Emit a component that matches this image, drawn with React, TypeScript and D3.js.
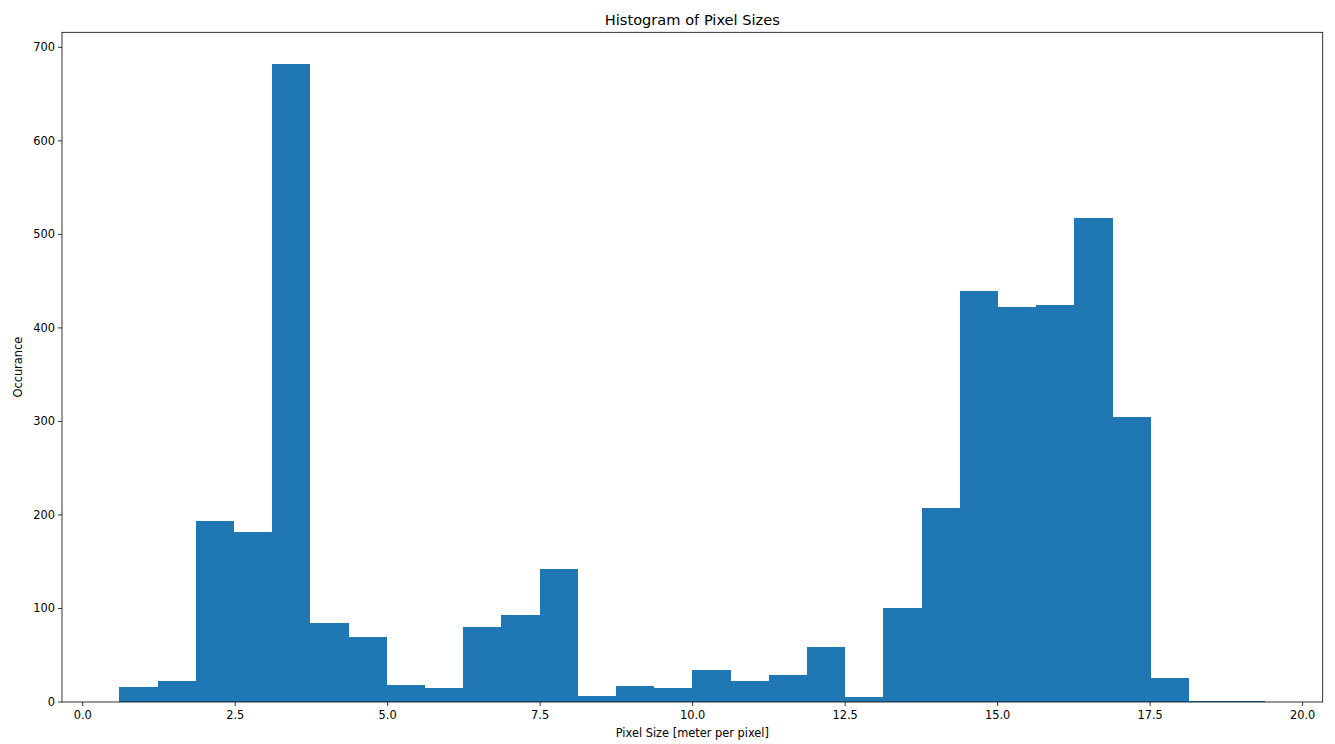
import React from "react";
import * as d3 from "d3";

const counts = [16, 22, 194, 182, 682, 85, 70, 18, 15, 80, 93, 142, 6, 17, 15, 34, 22, 29, 59, 5, 101, 207, 439, 422, 424, 517, 305, 26, 1, 1];
const binMin = 0.6;
const binMax = 19.39;
const xTicks = [0, 2.5, 5, 7.5, 10, 12.5, 15, 17.5, 20];
const yTicks = [0, 100, 200, 300, 400, 500, 600, 700];
const title = "Histogram of Pixel Sizes";
const xLabel = "Pixel Size [meter per pixel]";
const yLabel = "Occurance";

const W = 1335, H = 744;
const L = 62, R = 1322.7, T = 32.3, B = 702;
const FONT = "DejaVu Sans, sans-serif";

export default function App() {
  const nb = counts.length;
  const bw = (binMax - binMin) / nb;
  const span = binMax - binMin;
  const x = d3.scaleLinear().domain([binMin - 0.05 * span, binMax + 0.05 * span]).range([L, R]);
  const ymax = d3.max(counts)! * 1.05;
  const y = d3.scaleLinear().domain([0, ymax]).range([B, T]);
  const fs = 11.4;
  return (
    <svg width={W} height={H} style={{ position: "absolute", left: 0, top: 0, background: "#fff" }}>
      <rect x={0} y={0} width={W} height={H} fill="#fff" />
      <g shapeRendering="crispEdges">
        {counts.map((c, i) => {
          const x0 = x(binMin + i * bw);
          const x1 = x(binMin + (i + 1) * bw);
          return <rect key={i} x={x0} y={y(c)} width={x1 - x0} height={B - y(c)} fill="#1f77b4" />;
        })}
      </g>
      <rect x={L} y={T} width={R - L} height={B - T} fill="none" stroke="#000" strokeWidth={0.8} />
      {xTicks.map((t) => (
        <g key={t} transform={`translate(${x(t)},${B})`}>
          <line y1={0} y2={4} stroke="#000" strokeWidth={0.8} />
          <text y={17} textAnchor="middle" fontFamily={FONT} fontSize={fs} fill="#000">{t.toFixed(1)}</text>
        </g>
      ))}
      {yTicks.map((t) => (
        <g key={t} transform={`translate(${L},${y(t)})`}>
          <line x1={0} x2={-4} stroke="#000" strokeWidth={0.8} />
          <text x={-7} dy="0.35em" textAnchor="end" fontFamily={FONT} fontSize={fs} fill="#000">{t}</text>
        </g>
      ))}
      <text x={(L + R) / 2} y={24.5} textAnchor="middle" fontFamily={FONT} fontSize={14.6} fill="#000">{title}</text>
      <text x={(L + R) / 2} y={737} textAnchor="middle" fontFamily={FONT} fontSize={fs} fill="#000">{xLabel}</text>
      <text transform={`translate(22,${(T + B) / 2}) rotate(-90)`} textAnchor="middle" fontFamily={FONT} fontSize={fs} fill="#000">{yLabel}</text>
    </svg>
  );
}
